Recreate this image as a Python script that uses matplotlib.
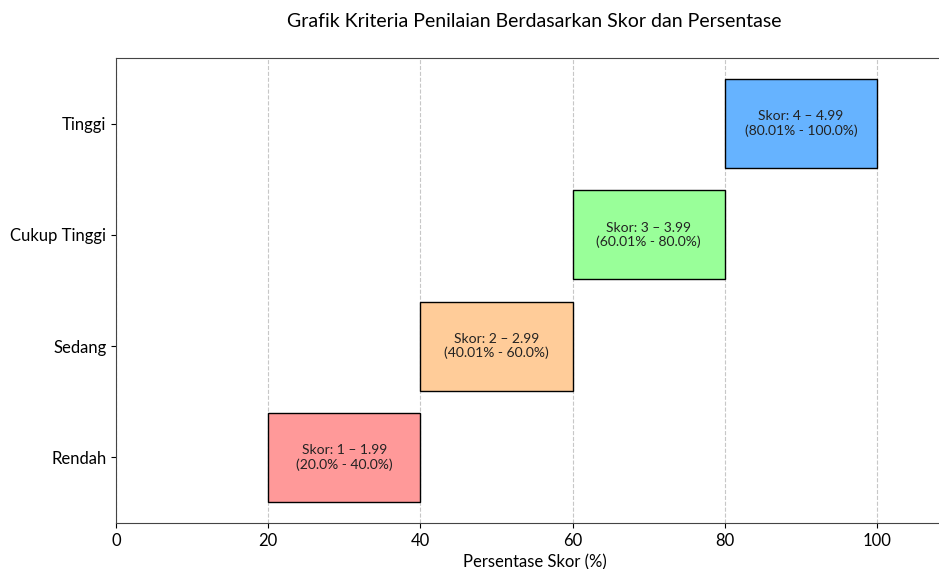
import matplotlib
matplotlib.use('Agg')
import matplotlib.pyplot as plt

# ------------------------------------------------------------------------- DATA
kategori = ['Rendah', 'Sedang', 'Cukup Tinggi', 'Tinggi']
skor_min = [1, 2, 3, 4]
skor_max = [1.99, 2.99, 3.99, 4.99]
persen_min = [20.0, 40.01, 60.01, 80.01]
persen_max = [40.0, 60.0, 80.0, 100.0]
warna = ['#ff9999', '#ffcc99', '#99ff99', '#66b3ff']

# ------------------------------------------------------------------------- PLOT
plt.rcParams['font.family'] = ['Lato', 'DejaVu Sans']

fig = plt.figure(figsize=(9.39, 5.69), dpi=100)
ax = fig.add_axes([116/939, 46/569, 837/939, 465/569])

for i in range(len(kategori)):
	lebar = persen_max[i] - persen_min[i]
	ax.barh(i, lebar, left=persen_min[i], height=0.8,
			color=warna[i], edgecolor='black', linewidth=1, zorder=3)
	txt = 'Skor: %s – %s\n(%s%% - %s%%)' % (skor_min[i], skor_max[i],
											 persen_min[i], persen_max[i])
	ax.text(persen_min[i] + lebar/2.0, i, txt, ha='center',
			va='center', fontsize=10, color='#222222', zorder=4)

ax.set_yticks(range(len(kategori)))
ax.set_yticklabels(kategori, fontsize=12)
ax.set_xlim(0, 110)
ax.set_xticks([0, 20, 40, 60, 80, 100])
ax.tick_params(axis='x', labelsize=12)
for s in ax.spines.values():
	s.set_color('#444444')
ax.set_xlabel('Persentase Skor (%)', fontsize=12)
ax.set_title('Grafik Kriteria Penilaian Berdasarkan Skor dan Persentase',
			 fontsize=14, pad=22)
ax.grid(axis='x', linestyle='--', alpha=0.7, zorder=0)

fig.savefig('out.png', dpi=100)
